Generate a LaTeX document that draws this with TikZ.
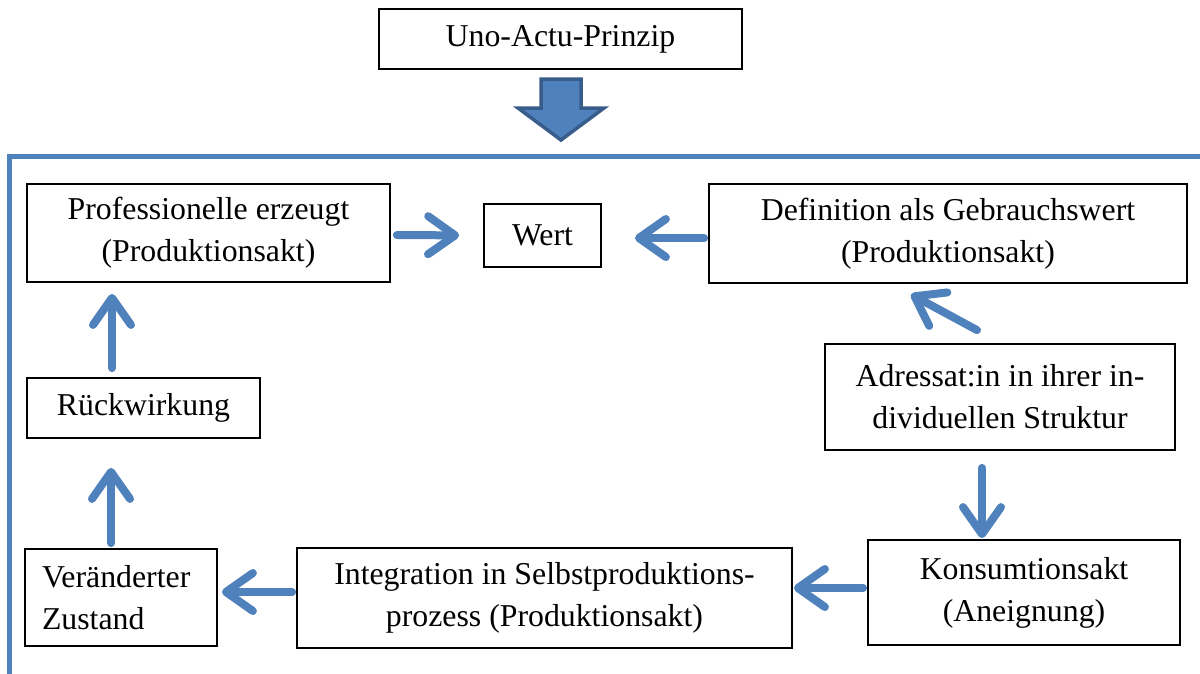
\documentclass[tikz,border=0pt]{standalone}
\usepackage{fontspec}
\setmainfont{Liberation Serif}
\usetikzlibrary{arrows.meta}

\definecolor{flowblue}{HTML}{4F81BD}
\definecolor{flowdark}{HTML}{385D8A}

\tikzset{
  box/.style={draw=black, line width=1.8pt, rectangle, inner sep=0pt,
    align=center, font=\fontsize{31.8}{42}\selectfont},
  flow/.style={draw=flowblue, line width=8pt, line cap=round,
    -{Straight Barb[length=27pt,width=38pt,round]},
    preaction={draw=black, opacity=0.12,
      transform canvas={shift={(2pt,-3pt)}}}},
}

\begin{document}
\begin{tikzpicture}[x=1pt,y=-1pt]
  \useasboundingbox (0,0) rectangle (1200,673);
  \fill[white] (0,0) rectangle (1200,673);

  % heading and the broad arrow below it
  \node[box, minimum width=363pt, minimum height=60pt] (uno) at (560.5,39) {Uno-Actu-Prinzip};
  \draw[fill=flowblue, draw=flowdark, line width=3.5pt, line join=miter]
    (541,79) -- (581,79) -- (581,108) -- (604,108) -- (561,140)
    -- (518,108) -- (541,108) -- cycle;

  % open frame around the cycle
  \draw[flowblue, line width=5pt] (1205,156) -- (9.5,156) -- (9.5,680);

  % the boxes of the cycle
  \node[box, minimum width=363pt, minimum height=98pt] (prof) at (208.5,233)
    {Professionelle erzeugt\\(Produktionsakt)};
  \node[box, minimum width=117pt, minimum height=63pt] (wert) at (542.5,235.5) {Wert};
  \node[box, minimum width=478pt, minimum height=99pt] (defn) at (948,233.5)
    {Definition als Gebrauchswert\\(Produktionsakt)};
  \node[box, minimum width=350pt, minimum height=106pt] (adr) at (1000,397)
    {Adressat:in in ihrer in-\\dividuellen Struktur};
  \node[box, minimum width=233pt, minimum height=60pt] (rueck) at (143.5,408) {Rückwirkung};
  \node[box, minimum height=97pt, text width=158pt, inner xsep=17pt, align=left]
    (ver) at (121,597.5) {Veränderter\\Zustand};
  \node[box, minimum width=495pt, minimum height=100pt] (integ) at (544.5,598)
    {Integration in Selbstproduktions-\\prozess (Produktionsakt)};
  \node[box, minimum width=312pt, minimum height=105pt] (kons) at (1024,592.5)
    {Konsumtionsakt\\(Aneignung)};

  % connectors
  \draw[flow, shorten <=6pt, shorten >=24pt] ([yshift=-2pt]prof.east) -- (wert.west);
  \draw[flow, shorten <=4pt, shorten >=33pt] ([yshift=-4.5pt]defn.west) -- ([yshift=-2.5pt]wert.east);
  \draw[flow] ([xshift=-23pt,yshift=13pt]adr.north) -- ([xshift=-37pt,yshift=-10.5pt]defn.south);
  \draw[flow, shorten <=17pt, shorten >=1pt] ([xshift=-18pt]adr.south) -- ([xshift=-42pt]kons.north);
  \draw[flow, shorten <=4pt, shorten >=1pt] ([yshift=4.5pt]kons.west) -- ([yshift=10pt]integ.east);
  \draw[flow, shorten <=4pt, shorten >=4pt] ([yshift=6pt]integ.west) -- ([yshift=5.5pt]ver.east);
  \draw[flow, shorten <=5pt, shorten >=29pt] ([xshift=-10pt]ver.north) -- ([xshift=-32.5pt]rueck.south);
  \draw[flow, shorten <=9pt, shorten >=11pt] ([xshift=-31.5pt]rueck.north) -- ([xshift=-96.5pt]prof.south);
\end{tikzpicture}
\end{document}
